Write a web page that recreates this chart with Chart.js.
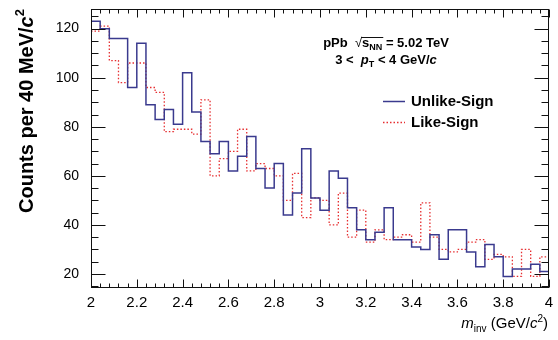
<!DOCTYPE html>
<html>
<head>
<meta charset="utf-8">
<script src="https://cdn.jsdelivr.net/npm/chart.js@4.4.0/dist/chart.umd.min.js"></script>
<style>
  html, body { margin: 0; padding: 0; background: #fff; }
  #wrap { width: 558px; height: 340px; }
</style>
</head>
<body>
<div id="wrap"><canvas id="myChart" width="558" height="340"></canvas></div>
<script>
// bin edges in GeV/c^2 (40 MeV bins)
const binEdges = [2.00, 2.04, 2.08, 2.12, 2.16, 2.20, 2.24, 2.28, 2.32, 2.36,
                  2.40, 2.44, 2.48, 2.52, 2.56, 2.60, 2.64, 2.68, 2.72, 2.76,
                  2.80, 2.84, 2.88, 2.92, 2.96, 3.00, 3.04, 3.08, 3.12, 3.16,
                  3.20, 3.24, 3.28, 3.32, 3.36, 3.40, 3.44, 3.48, 3.52, 3.56,
                  3.60, 3.64, 3.68, 3.72, 3.76, 3.80, 3.84, 3.88, 3.92, 3.96, 4.00];

const unlikeSign = [123, 120, 116, 116, 96, 114, 89, 83, 87, 81,
                    102, 86, 74, 69, 74, 62, 68, 76, 63, 55,
                    65, 44, 53, 71, 51, 46, 62, 59, 47, 38,
                    34, 37, 47, 34, 34, 31, 30, 36, 26, 38,
                    38, 29, 23, 32, 27, 19, 22, 22, 24, 21];

const likeSign = [119, 121, 107, 98, 106, 106, 96, 94, 78, 79,
                  79, 77, 91, 60, 67, 70, 79, 62, 65, 63,
                  60, 50, 61, 43, 51, 50, 40, 53, 35, 46,
                  33, 38, 34, 35, 36, 33, 49, 35, 30, 29,
                  30, 33, 34, 26, 28, 27, 19, 30, 19, 27];

const xTicks = [2, 2.2, 2.4, 2.6, 2.8, 3, 3.2, 3.4, 3.6, 3.8, 4];
const xTickLabels = ['2', '2.2', '2.4', '2.6', '2.8', '3', '3.2', '3.4', '3.6', '3.8', '4'];
const yTicks = [20, 40, 60, 80, 100, 120];
const yTickLabels = ['20', '40', '60', '80', '100', '120'];

const FF = '"Liberation Sans", Arial, Helvetica, sans-serif';
const BLUE = '#3a3a8e';
const RED = '#e62e30';

// histogram -> step points (one per left edge + closing point at the last edge)
function toSteps(vals) {
    const pts = vals.map((v, i) => ({ x: binEdges[i], y: v }));
    pts.push({ x: binEdges[vals.length], y: vals[vals.length - 1] });
    return pts;
}

function drawRich(ctx, parts, x, y, align) {
    let w = 0;
    parts.forEach(p => { ctx.font = p[1]; w += ctx.measureText(p[0]).width; });
    let cx = align === 'right' ? x - w : (align === 'center' ? x - w / 2 : x);
    const pos = [];
    parts.forEach(p => {
        ctx.font = p[1];
        const pw = ctx.measureText(p[0]).width;
        ctx.fillText(p[0], cx, y + (p[2] || 0));
        pos.push([cx, cx + pw]);
        cx += pw;
    });
    return pos;
}

// chart area is fixed, so no extra room for half labels
function noPad(scale) {
    scale.paddingTop = 0;
    scale.paddingBottom = 0;
    scale.paddingLeft = 0;
    scale.paddingRight = 0;
}

const rootStyle = {
    id: 'rootStyle',
    afterDraw(chart) {
        const ctx = chart.ctx;
        const a = chart.chartArea;
        const xs = chart.scales.x, ys = chart.scales.y;
        const L = Math.round(a.left) + 0.5, R = Math.round(a.right) - 0.5;
        const T = Math.round(a.top) + 0.5, B = Math.round(a.bottom) - 0.5;
        ctx.save();
        ctx.strokeStyle = '#111';
        ctx.lineWidth = 1;
        ctx.strokeRect(L, T, R - L, B - T);

        // ticks drawn inward, like a ROOT frame
        ctx.beginPath();
        for (let i = 0; i <= 50; i++) {
            const px = Math.round(xs.getPixelForValue(2 + i * 0.04)) + 0.5;
            const len = i % 5 === 0 ? 8 : 4;
            ctx.moveTo(px, B); ctx.lineTo(px, B - len);
            ctx.moveTo(px, T); ctx.lineTo(px, T + len);
        }
        for (let v = 15; v <= 125; v += 5) {
            const py = Math.round(ys.getPixelForValue(v)) + 0.5;
            const len = v % 20 === 0 ? 14 : 7;
            ctx.moveTo(L, py); ctx.lineTo(L + len, py);
            ctx.moveTo(R, py); ctx.lineTo(R - len, py);
        }
        ctx.stroke();

        ctx.fillStyle = '#000';
        ctx.textBaseline = 'alphabetic';

        // y title
        ctx.save();
        ctx.translate(33, 213);
        ctx.rotate(-Math.PI / 2);
        drawRich(ctx, [
            ['Counts per 40 MeV/', 'bold 20px ' + FF],
            ['c', 'italic bold 20px ' + FF],
            ['2', 'bold 13px ' + FF, -9]
        ], 0, 0, 'left');
        ctx.restore();

        // x title
        drawRich(ctx, [
            ['m', 'italic 15px ' + FF],
            ['inv', '10px ' + FF, 4],
            [' (GeV/', '15px ' + FF],
            ['c', 'italic 15px ' + FF],
            ['2', '10px ' + FF, -6],
            [')', '15px ' + FF]
        ], 548, 328, 'right');

        // collision system text
        const p1 = drawRich(ctx, [
            ['pPb  ', 'bold 13px ' + FF],
            ['\u221A', '13px ' + FF],
            ['s', 'bold 13px ' + FF],
            ['NN', 'bold 9px ' + FF, 3],
            [' = 5.02 TeV', 'bold 13px ' + FF]
        ], 386, 47, 'center');
        ctx.beginPath();
        ctx.lineWidth = 1;
        ctx.moveTo(p1[1][1] - 1, 37.5);
        ctx.lineTo(p1[3][1] + 1, 37.5);
        ctx.stroke();
        drawRich(ctx, [
            ['3 <  ', 'bold 13px ' + FF],
            ['p', 'italic bold 13px ' + FF],
            ['T', 'bold 9px ' + FF, 3],
            [' < 4 GeV/', 'bold 13px ' + FF],
            ['c', 'italic bold 13px ' + FF]
        ], 386, 64, 'center');

        // legend
        chart.data.datasets.forEach((ds, i) => {
            const ly = i === 0 ? 101.5 : 122.5;
            ctx.beginPath();
            ctx.strokeStyle = ds.borderColor;
            ctx.lineWidth = ds.borderWidth;
            ctx.setLineDash(ds.borderDash || []);
            ctx.moveTo(383, ly); ctx.lineTo(405, ly);
            ctx.stroke();
            ctx.setLineDash([]);
            ctx.fillStyle = '#000';
            ctx.font = 'bold 15px ' + FF;
            ctx.textBaseline = 'middle';
            ctx.fillText(ds.label, 411, ly);
        });
        ctx.restore();
    }
};

const ctx = document.getElementById('myChart').getContext('2d');

new Chart(ctx, {
    type: 'line',
    data: {
        datasets: [{
            label: 'Unlike-Sign',
            data: toSteps(unlikeSign),
            borderColor: BLUE,
            borderWidth: 1.5,
            stepped: true,
            pointRadius: 0,
            fill: false
        }, {
            label: 'Like-Sign',
            data: toSteps(likeSign),
            borderColor: RED,
            borderWidth: 1.3,
            borderDash: [1.5, 2],
            stepped: true,
            pointRadius: 0,
            fill: false
        }]
    },
    options: {
        responsive: false,
        animation: false,
        layout: { padding: { top: 9, right: 9, left: 0, bottom: 0 } },
        plugins: {
            legend: { display: false },
            tooltip: { enabled: false }
        },
        scales: {
            x: {
                type: 'linear',
                min: 2,
                max: 4,
                grid: { display: false, drawTicks: false },
                border: { display: false },
                afterBuildTicks: axis => { axis.ticks = xTicks.map(v => ({ value: v })); },
                afterFit: scale => { scale.height = 52.5; noPad(scale); },
                ticks: {
                    autoSkip: false,
                    maxRotation: 0,
                    padding: 6,
                    color: '#000',
                    font: { family: FF, size: 15 },
                    callback: (v, i) => xTickLabels[i]
                }
            },
            y: {
                min: 14.5,
                max: 128,
                grid: { display: false, drawTicks: false },
                border: { display: false },
                afterBuildTicks: axis => { axis.ticks = yTicks.map(v => ({ value: v })); },
                afterFit: scale => { scale.width = 91; noPad(scale); },
                ticks: {
                    autoSkip: false,
                    padding: 12,
                    color: '#000',
                    font: { family: FF, size: 14 },
                    callback: (v, i) => yTickLabels[i]
                }
            }
        }
    },
    plugins: [rootStyle]
});
</script>
</body>
</html>
